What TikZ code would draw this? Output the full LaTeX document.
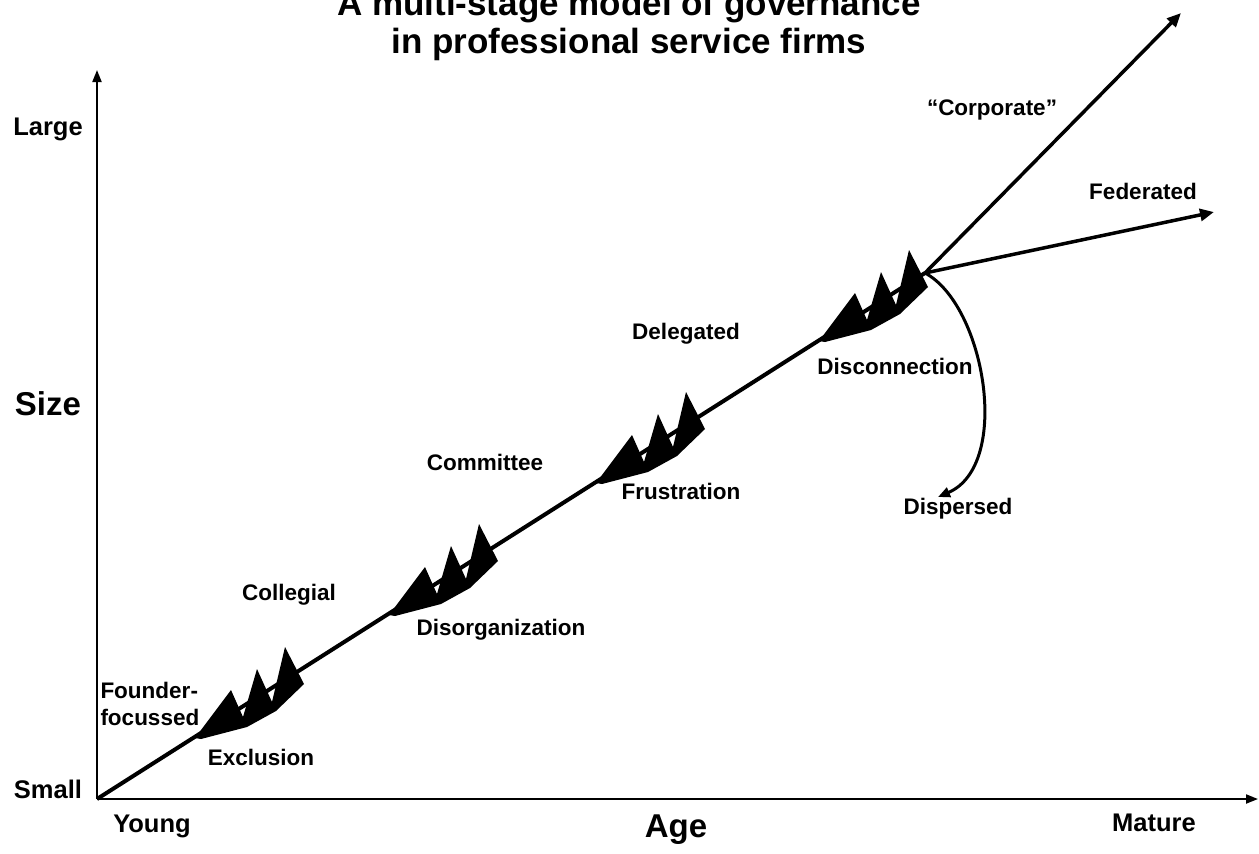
\documentclass[tikz,border=0pt]{standalone}
\usepackage{fontspec}
\setmainfont{Liberation Sans}
\usetikzlibrary{arrows.meta}
\tikzset{every picture/.style={line width=0.5pt}}
\tikzstyle{lbl}=[font=\bfseries\fontsize{11.25}{13}\selectfont,inner sep=0pt,anchor=base]
\tikzstyle{endlbl}=[font=\bfseries\fontsize{12.75}{15}\selectfont,inner sep=0pt,anchor=base]
\tikzstyle{axlbl}=[font=\bfseries\fontsize{16.5}{20}\selectfont,inner sep=0pt,anchor=base]
\tikzstyle{ttl}=[font=\bfseries\fontsize{17.5}{21}\selectfont,inner sep=0pt,anchor=base]
\tikzstyle{axis}=[line width=1pt,-{Triangle[length=6pt,width=4.5pt]}]
\tikzstyle{growth}=[line width=2pt]
\tikzstyle{branch}=[line width=1.75pt,-{Triangle[length=7pt,width=6pt]}]
\tikzstyle{disperse}=[line width=1.5pt,-{Triangle[length=6pt,width=5pt]}]
\newcommand{\govbolt}[1]{\fill[shift={#1}] (-4,3) -- (32,-45) -- (44,-18) -- (58,-66) -- (73,-33) -- (86,-88) -- (105,-51) -- (77,-24) -- (48,-8) -- (2,4) -- cycle;}

\begin{document}
\begin{tikzpicture}[x=0.5pt,y=-0.5pt]
\useasboundingbox (0,0) rectangle (1259,853);
\coordinate (O) at (97,799);
\coordinate (Ytop) at (97,70);
\coordinate (Xend) at (1258,799);
\coordinate (J) at (925,273);
\coordinate (corp) at (1181,13);
\coordinate (fed) at (1214,212);
\coordinate (disp) at (938,497);
% title
\node[ttl] (title1) at (629,15) {A multi-stage model of governance};
\node[ttl] (title2) at (629,53) {in professional service firms};
% axes
\node[endlbl] (large) at (48,135) {Large};
\node[axlbl] (size) at (48,415) {Size};
\node[endlbl] (small) at (48,798) {Small};
\node[endlbl] (young) at (152,832) {Young};
\node[axlbl] (age) at (676,837) {Age};
\node[endlbl] (mature) at (1154,831) {Mature};
\draw[axis] (O) -- (Ytop);
\draw[axis] (O) -- (Xend);
% stages
\node[lbl,anchor=base west] (founder) at (100,698) {Founder-};
\node[lbl,anchor=base west] (focussed) at (100,725) {focussed};
\node[lbl] (exclusion) at (261,765) {Exclusion};
\node[lbl] (collegial) at (289,600) {Collegial};
\node[lbl] (disorg) at (501,635) {Disorganization};
\node[lbl] (committee) at (485,470) {Committee};
\node[lbl] (frustration) at (681,499) {Frustration};
\node[lbl] (delegated) at (686,339) {Delegated};
\node[lbl] (disconn) at (895,374) {Disconnection};
\node[lbl] (corporate) at (992,115) {“Corporate”};
\node[lbl] (federated) at (1143,199) {Federated};
\node[lbl] (dispersed) at (958,514) {Dispersed};
\draw[growth] (O) -- (J);
\govbolt{(199,735)}
\govbolt{(393,612)}
\govbolt{(600,480)}
\govbolt{(823,338)}
\path[branch]
(J) edge (corp)
(J) edge (fed);
\draw[disperse] (J) .. controls (985,305) and (1012,465) .. (disp);
\end{tikzpicture}
\end{document}
